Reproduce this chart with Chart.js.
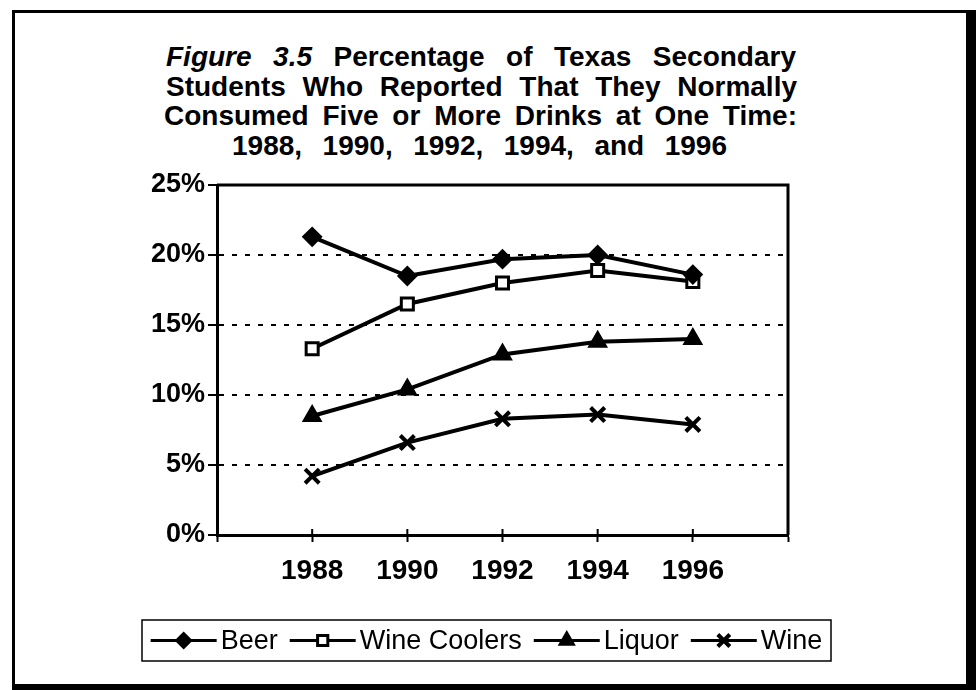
<!DOCTYPE html>
<html>
<head>
<meta charset="utf-8">
<script src="https://cdn.jsdelivr.net/npm/chart.js@4/dist/chart.umd.min.js"></script>
<style>
    html, body { margin: 0; padding: 0; background: #fff; }
    body { width: 976px; height: 690px; position: relative; overflow: hidden; }
    #frame {
        position: absolute; left: 12px; top: 10px; width: 964px; height: 680px;
        box-sizing: border-box; border-style: solid; border-color: #000;
        border-width: 3px 10px 6px 3px;
    }
    .tline {
        position: absolute; font-family: "Liberation Sans", Arial, sans-serif;
        font-weight: bold; font-size: 28px; line-height: 30px; color: #000;
        text-align: justify; text-align-last: justify; white-space: nowrap;
    }
    canvas { position: absolute; left: 0; top: 0; }
</style>
</head>
<body>
<div id="frame"></div>
<div class="tline" style="left:166px; top:42px; width:630px;"><i>Figure</i> <i>3.5</i> Percentage of Texas Secondary</div>
<div class="tline" style="left:166px; top:72px; width:631px;">Students Who Reported That They Normally</div>
<div class="tline" style="left:164px; top:101px; width:633px;">Consumed Five or More Drinks at One Time:</div>
<div class="tline" style="left:232px; top:131px; width:495px;">1988, 1990, 1992, 1994, and 1996</div>
<canvas id="drinkChart" width="976" height="690"></canvas>
<script>
// survey years and series (percent of students)
const years = [1988, 1990, 1992, 1994, 1996];
const beer = [21.3, 18.5, 19.7, 20.0, 18.6];
const wineCoolers = [13.3, 16.5, 18.0, 18.9, 18.1];
const liquor = [8.5, 10.4, 12.9, 13.8, 14.0];
const wine = [4.2, 6.6, 8.3, 8.6, 7.9];
const seriesLabels = ["Beer", "Wine Coolers", "Liquor", "Wine"];

const FONT = '"Liberation Sans", Arial, sans-serif';

function toPoints(values) {
    return years.map((y, i) => ({ x: y, y: values[i] }));
}

function lineSet(label, values, style, radius, fill, borderW) {
    return {
        label,
        data: toPoints(values),
        borderColor: "#000",
        borderWidth: 4,
        tension: 0,
        pointStyle: style,
        pointRadius: radius,
        pointBackgroundColor: fill,
        pointBorderColor: "#000",
        pointBorderWidth: borderW
    };
}

/* -------------------------------
   Plot frame (top/right) and x tick marks above the axis
---------------------------------*/
const frameLines = {
    id: "frameLines",
    afterDraw(chart) {
        const { ctx, chartArea } = chart;
        const xs = chart.scales.x;
        ctx.save();
        ctx.strokeStyle = "#000";
        ctx.lineWidth = 3;
        ctx.beginPath();
        ctx.moveTo(chartArea.left, chartArea.top);
        ctx.lineTo(chartArea.right, chartArea.top);
        ctx.lineTo(chartArea.right, chartArea.bottom);
        ctx.stroke();
        ctx.lineWidth = 2;
        xs.ticks.forEach(t => {
            const px = xs.getPixelForValue(t.value);
            ctx.beginPath();
            ctx.moveTo(px, chartArea.bottom);
            ctx.lineTo(px, chartArea.bottom - 6);
            ctx.stroke();
        });
        ctx.restore();
    }
};

/* -------------------------------
   Legend: boxed row of line+marker samples
---------------------------------*/
const boxLegend = {
    id: "boxLegend",
    afterDraw(chart) {
        const { ctx } = chart;
        const box = { left: 142, top: 620, right: 831, bottom: 661 };
        const symW = 66, gapText = 4, gapItem = 12;
        const cy = (box.top + box.bottom) / 2;
        ctx.save();
        ctx.font = "27px " + FONT;
        ctx.textBaseline = "middle";
        const items = chart.data.datasets.map(ds => ({ ds, w: ctx.measureText(ds.label).width }));
        let total = 0;
        items.forEach((it, i) => { total += symW + gapText + it.w + (i ? gapItem : 0); });
        let x = (box.left + box.right) / 2 - total / 2;

        ctx.strokeStyle = "#000";
        ctx.lineWidth = 1.5;
        ctx.strokeRect(box.left, box.top, box.right - box.left, box.bottom - box.top);

        items.forEach((it, i) => {
            if (i) x += gapItem;
            const ds = it.ds;
            ctx.strokeStyle = "#000";
            ctx.lineWidth = 3;
            ctx.beginPath();
            ctx.moveTo(x, cy);
            ctx.lineTo(x + symW, cy);
            ctx.stroke();
            ctx.fillStyle = ds.pointBackgroundColor;
            ctx.lineWidth = ds.pointBorderWidth;
            Chart.helpers.drawPoint(ctx, {
                pointStyle: ds.pointStyle,
                radius: ds.pointRadius * 0.85,
                rotation: 0,
                borderWidth: ds.pointBorderWidth
            }, x + symW / 2, cy);
            x += symW + gapText;
            ctx.fillStyle = "#000";
            ctx.fillText(ds.label, x, cy + 1);
            x += it.w;
        });
        ctx.restore();
    }
};

new Chart(document.getElementById("drinkChart").getContext("2d"), {
    type: "line",
    data: {
        datasets: [
            lineSet(seriesLabels[0], beer, "rectRot", 9, "#000", 2),
            lineSet(seriesLabels[1], wineCoolers, "rect", 8.5, "#fff", 3),
            lineSet(seriesLabels[2], liquor, "triangle", 10, "#000", 2),
            lineSet(seriesLabels[3], wine, "crossRot", 10, "#000", 4)
        ]
    },
    options: {
        responsive: false,
        animation: false,
        layout: { padding: { top: 185, right: 188, left: 0, bottom: 0 } },
        plugins: {
            legend: { display: false },
            title: { display: false },
            tooltip: { enabled: false }
        },
        scales: {
            x: {
                type: "linear",
                min: 1986,
                max: 1998,
                afterFit: (s) => { s.height = 155; },
                border: { color: "#000", width: 3 },
                grid: {
                    drawOnChartArea: false,
                    tickLength: 7,
                    tickColor: "#000",
                    tickWidth: 2
                },
                ticks: {
                    stepSize: 2,
                    color: "#000",
                    padding: 12,
                    maxRotation: 0,
                    font: { family: FONT, size: 28, weight: "bold" },
                    callback: (v) => (v === 1986 || v === 1998) ? "" : String(v)
                }
            },
            y: {
                min: 0,
                max: 25,
                afterFit: (s) => { s.width = 217; },
                border: { color: "#000", width: 3, dash: [5, 8] },
                grid: {
                    color: (c) => (c.tick && (c.tick.value === 0 || c.tick.value === 25)) ? "rgba(0,0,0,0)" : "#000",
                    lineWidth: 2,
                    tickColor: "#000",
                    tickBorderDash: [],
                    tickLength: 9,
                    tickWidth: 2
                },
                ticks: {
                    stepSize: 5,
                    color: "#000",
                    padding: 3,
                    font: { family: FONT, size: 27, weight: "bold" },
                    callback: (v) => v + "%"
                }
            }
        }
    },
    plugins: [frameLines, boxLegend]
});
</script>
</body>
</html>
